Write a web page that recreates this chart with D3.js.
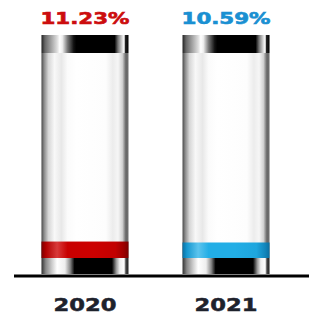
<!DOCTYPE html>
<html><head><meta charset="utf-8">
<script src="https://cdn.jsdelivr.net/npm/d3@7"></script>
<style>html,body{margin:0;padding:0;background:#fff;}svg{display:block;}</style>
</head><body>
<script>
const years = ["2020", "2021"];
const values = [11.23, 10.59];
const valueLabels = ["11.23%", "10.59%"];
const colors = ["red", "blue"];

const W = 311, H = 315;
const svg = d3.select("body").append("svg").attr("width", W).attr("height", H);
const defs = svg.append("defs");

function grad(id, stops) {
  const g = defs.append("linearGradient").attr("id", id)
    .attr("x1", "0%").attr("x2", "100%").attr("y1", "0%").attr("y2", "0%");
  stops.forEach(([o, c]) => g.append("stop").attr("offset", o).attr("stop-color", c));
}
grad("body", [[0,"#4a4a4a"],[0.03,"#8a8a8a"],[0.08,"#d6d6d6"],[0.15,"#f8f8f8"],[0.23,"#e8e8e8"],[0.3,"#fbfbfb"],[0.4,"#fff"],[0.74,"#fdfdfd"],[0.82,"#ececec"],[0.88,"#f6f6f6"],[0.93,"#d2d2d2"],[0.97,"#666"],[1,"#707070"]]);
grad("capTop", [[0,"#222"],[0.04,"#666"],[0.1,"#999"],[0.18,"#ddd"],[0.21,"#fff"],[0.24,"#eee"],[0.3,"#777"],[0.37,"#111"],[0.4,"#000"],[0.84,"#000"],[0.88,"#777"],[0.93,"#ddd"],[0.95,"#fff"],[0.965,"#222"],[1,"#000"]]);
grad("capBot", [[0,"#333"],[0.05,"#888"],[0.12,"#ccc"],[0.18,"#fff"],[0.27,"#eee"],[0.33,"#888"],[0.38,"#000"],[0.81,"#000"],[0.86,"#999"],[0.9,"#eee"],[0.95,"#fff"],[0.97,"#444"],[1,"#222"]]);
grad("red", [[0,"#7a0000"],[0.05,"#b00000"],[0.18,"#d83a3a"],[0.3,"#c80000"],[0.6,"#cc0000"],[0.85,"#c20000"],[0.95,"#9a0000"],[1,"#7a0000"]]);
grad("blue", [[0,"#0a6ea0"],[0.05,"#1597cf"],[0.18,"#5cc4ee"],[0.3,"#22aee6"],[0.6,"#22aee6"],[0.85,"#1ea6de"],[0.95,"#1285bb"],[1,"#0a6ea0"]]);

const labelColors = {red: "#cc0d0d", blue: "#1a90d2"};

const x = d3.scaleBand().domain(years).range([0, W]).paddingInner(0.383).paddingOuter(0.294);
const y = d3.scaleLinear().domain([0, 140]).range([258, 53]);
const capTop = 35, capH = 18, botH = 16;

const g = svg.selectAll("g.bar").data(years).enter().append("g").attr("class", "bar");

g.append("rect").attr("x", d => x(d)).attr("width", x.bandwidth())
  .attr("y", y(140)).attr("height", y(0) - y(140)).attr("fill", "url(#body)");
g.append("rect").attr("x", d => x(d)).attr("width", x.bandwidth())
  .attr("y", (d, i) => y(values[i])).attr("height", (d, i) => y(0) - y(values[i]))
  .attr("fill", (d, i) => "url(#" + colors[i] + ")");
g.append("rect").attr("x", d => x(d)).attr("width", x.bandwidth())
  .attr("y", capTop).attr("height", capH).attr("fill", "url(#capTop)");
g.append("rect").attr("x", d => x(d)).attr("width", x.bandwidth())
  .attr("y", y(0)).attr("height", botH).attr("fill", "url(#capBot)");

// baseline
svg.append("line").attr("x1", 14).attr("x2", 309).attr("y1", 276).attr("y2", 276)
  .attr("stroke", "#000").attr("stroke-width", 3);

// value labels
g.append("text").attr("x", d => x(d) + x.bandwidth() / 2).attr("y", 23.5)
  .attr("text-anchor", "middle")
  .attr("font-family", "DejaVu Sans, sans-serif").attr("font-weight", "bold")
  .attr("font-size", 15.5)
  .attr("textLength", 89).attr("lengthAdjust", "spacingAndGlyphs")
  .attr("fill", (d, i) => labelColors[colors[i]])
  .attr("stroke", (d, i) => labelColors[colors[i]]).attr("stroke-width", 0.6)
  .text((d, i) => valueLabels[i]);

// category labels via axis
const axis = svg.append("g").attr("transform", "translate(0,0)")
  .call(d3.axisBottom(x).tickSize(0).tickPadding(0));
axis.select(".domain").remove();
axis.selectAll("text").attr("y", 311).attr("dy", 0)
  .attr("font-family", "DejaVu Sans, sans-serif").attr("font-weight", "bold")
  .attr("font-size", 18).attr("fill", "#1e222c")
  .attr("stroke", "#1e222c").attr("stroke-width", 0.5)
  .attr("textLength", 63).attr("lengthAdjust", "spacingAndGlyphs");
</script>
</body></html>
